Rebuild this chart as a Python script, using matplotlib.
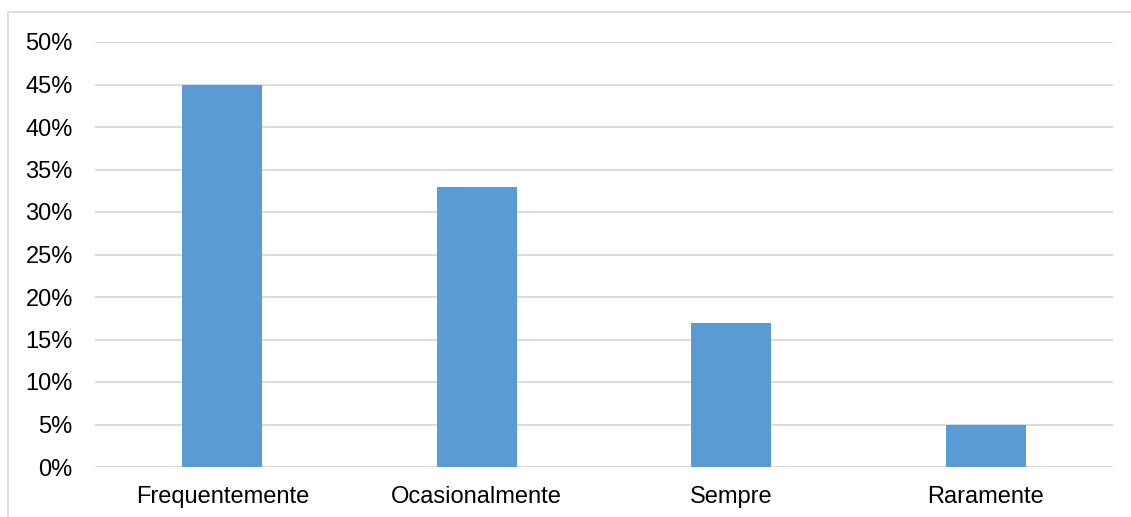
import matplotlib
matplotlib.use("Agg")
import matplotlib.pyplot as plt
from matplotlib.patches import Rectangle
from matplotlib.ticker import FuncFormatter, MultipleLocator

categories = ["Frequentemente", "Ocasionalmente", "Sempre", "Raramente"]
values = [45, 33, 17, 5]

plt.rcParams['font.family'] = ['Liberation Sans', 'DejaVu Sans']

W, H = 1131, 517
fig = plt.figure(figsize=(W / 100, H / 100), dpi=100)
fig.patch.set_facecolor("white")

# outer border (only top and left visible)
fig.patches.append(Rectangle((8 / W, -0.1), 1.2, (H - 12) / H + 0.1, transform=fig.transFigure,
                             fill=False, edgecolor="#D9D9D9", linewidth=1.2))

ax = fig.add_axes([95 / W, (H - 467) / H, (1113 - 95) / W, (467 - 42) / H])
x = range(len(categories))
ax.bar(x, values, width=0.315, color="#5B9BD5", zorder=3)
ax.set_xlim(-0.5, len(categories) - 0.5)
ax.set_ylim(0, 50)
ax.yaxis.set_major_locator(MultipleLocator(5))
ax.yaxis.set_major_formatter(FuncFormatter(lambda v, p: f"{v:.0f}%"))
ax.set_xticks(list(x))
ax.set_xticklabels(categories)
ax.grid(axis="y", color="#D9D9D9", linewidth=1.3, zorder=0)
for s in ax.spines.values():
    s.set_visible(False)
ax.tick_params(axis="both", length=0, labelsize=17, colors="#000000")
ax.tick_params(axis="y", pad=16)
ax.tick_params(axis="x", pad=14)

fig.savefig("out.png", dpi=100, facecolor="white")
